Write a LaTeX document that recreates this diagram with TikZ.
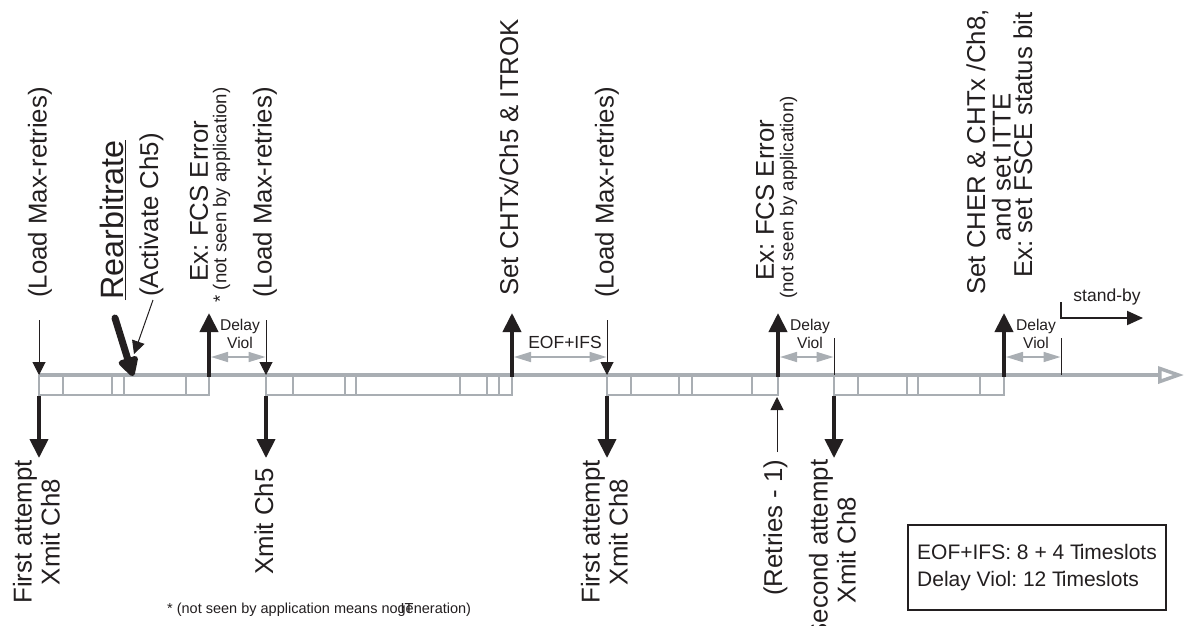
\documentclass[tikz,border=0pt]{standalone}
\usepackage{fontspec}
\setmainfont{Liberation Sans}
\usetikzlibrary{arrows.meta}
\definecolor{fr}{HTML}{A9AEB3}
\definecolor{ink}{HTML}{231F20}
\newcommand{\Tslots}{T\kern-0.15em imeslots}
\frenchspacing
\tikzset{
  frameline/.style={draw=fr, line width=2.8pt},
  axisline/.style={draw=fr, line width=4pt, -{Triangle[open, length=26pt, width=17pt, line width=3.5pt]}},
  bigarr/.style={draw=ink, line width=4pt, -{Triangle[length=19pt, width=18pt]}},
  thinarr/.style={draw=ink, line width=1pt, -{Triangle[length=13pt, width=13pt]}},
  rearr/.style={draw=ink, line width=7pt, line cap=round, -{Triangle[length=22pt, width=22pt, round]}},
  standarr/.style={draw=ink, line width=2pt, -{Triangle[length=16pt, width=14pt]}},
  tickline/.style={draw=ink, line width=1pt},
  dimarr/.style={draw=fr, line width=1.6pt, {Triangle[length=17pt,width=10pt]}-{Triangle[length=17pt,width=10pt]}},
  lab/.style={text=ink, rotate=90, inner sep=0pt, font=\fontsize{25.8}{28}\selectfont, align=center},
  bigrot/.style={text=ink, rotate=90, inner sep=0pt, font=\fontsize{32.3}{34}\selectfont},
  subrot/.style={text=ink, rotate=90, inner sep=0pt, font=\fontsize{18.6}{20}\selectfont},
  dlabel/.style={text=ink, inner sep=0pt, font=\fontsize{15.6}{18}\selectfont, align=center},
  elabel/.style={text=ink, inner sep=0pt, font=\fontsize{17.5}{20}\selectfont},
  notelabel/.style={text=ink, inner sep=0pt, font=\fontsize{14.5}{16}\selectfont},
  legendbox/.style={draw=ink, line width=2pt, text=ink, inner sep=0pt, minimum width=258pt, minimum height=85pt, align=left, font=\fontsize{21}{27}\selectfont},
}
\begin{document}
\begin{tikzpicture}[x=1pt,y=-1pt]
\fill[white] (0,0) rectangle (1186,625);
\useasboundingbox (0,0) rectangle (1186,625);

% ---- frames (gray timeslot boxes)
\foreach \a/\b in {39/209, 266/512, 607/778, 834/1004}
  \draw[frameline] (\a,375) -- (\a,395) -- (\b,395) -- (\b,375);
\foreach \x in {63,112,124,186,293,345,356,460,487,499,631,679,692,752,858,907,918,980}
  \draw[frameline] (\x,375) -- (\x,395);

% ---- time axis
\coordinate (ax0) at (39,375);
\coordinate (ax1) at (1184,375);
\draw[axisline] (ax0) -- (ax1);

% ---- event coordinates
\coordinate (ld1a) at (39,320);  \coordinate (ld1b) at (39,375);
\coordinate (x1a) at (39,396);   \coordinate (x1b) at (39,458);
\coordinate (rba) at (115,318);  \coordinate (rbb) at (133,376);
\coordinate (aca) at (153,300);  \coordinate (acb) at (134,354);
\coordinate (e2a) at (209,377);  \coordinate (e2b) at (209,313);
\coordinate (ld2a) at (266,320); \coordinate (ld2b) at (266,375);
\coordinate (x2a) at (266,396);  \coordinate (x2b) at (266,458);
\coordinate (e4a) at (512,377);  \coordinate (e4b) at (512,313);
\coordinate (ld3a) at (607,320); \coordinate (ld3b) at (607,375);
\coordinate (x3a) at (607,396);  \coordinate (x3b) at (607,458);
\coordinate (e6a) at (778,377);  \coordinate (e6b) at (778,313);
\coordinate (rta) at (777,452);  \coordinate (rtb) at (777,397);
\coordinate (t7a) at (834,338);  \coordinate (t7b) at (834,375);
\coordinate (x4a) at (834,396);  \coordinate (x4b) at (834,458);
\coordinate (e8a) at (1004,377); \coordinate (e8b) at (1004,313);
\coordinate (t9a) at (1061,338); \coordinate (t9b) at (1061,375);
\coordinate (sba) at (1061,302); \coordinate (sbb) at (1061,318); \coordinate (sbc) at (1143,318);

% ---- gray interval arrows
\coordinate (d1a) at (211,357);  \coordinate (d1b) at (265.5,357);
\coordinate (d2a) at (514,357);  \coordinate (d2b) at (606.5,357);
\coordinate (d3a) at (780,357);  \coordinate (d3b) at (833.5,357);
\coordinate (d4a) at (1006,357); \coordinate (d4b) at (1060.5,357);
\draw[dimarr] (d1a) -- (d1b);
\draw[dimarr] (d2a) -- (d2b);
\draw[dimarr] (d3a) -- (d3b);
\draw[dimarr] (d4a) -- (d4b);

% ---- black arrows
\draw[thinarr] (ld1a) -- (ld1b);
\draw[thinarr] (ld2a) -- (ld2b);
\draw[thinarr] (ld3a) -- (ld3b);
\draw[bigarr] (x1a) -- (x1b);
\draw[bigarr] (x2a) -- (x2b);
\draw[bigarr] (x3a) -- (x3b);
\draw[bigarr] (x4a) -- (x4b);
\draw[bigarr] (e2a) -- (e2b);
\draw[bigarr] (e4a) -- (e4b);
\draw[bigarr] (e6a) -- (e6b);
\draw[bigarr] (e8a) -- (e8b);
\draw[thinarr] (rta) -- (rtb);
\draw[tickline] (t7a) -- (t7b);
\draw[tickline] (t9a) -- (t9b);
\draw[rearr] (rba) -- (rbb);
\draw[thinarr] (aca) -- (acb);
\draw[standarr] (sba) -- (sbb) -- (sbc);

% ---- labels above the axis
\node[lab] (lmr1) at (40,192.5) {(Load Max-retries)};
\node[bigrot] (rearb) at (111.5,220) {Rearbitrate};
\draw[draw=ink, line width=1.5pt] ([xshift=2pt]rearb.south west) -- ([xshift=2pt]rearb.south east);
\node[lab] (act5) at (151.5,215) {(Activate Ch5)};
\node[lab] (fcs1) at (199,201) {Ex: FCS Error};
\node[subrot] (fcs1n) at (221.5,195) {* (not seen by application)};
\node[lab] (lmr2) at (265,192.5) {(Load Max-retries)};
\node[lab] (setok) at (509,157.5) {Set CHTx/Ch5 \& ITROK};
\node[lab] (lmr3) at (607,192.5) {(Load Max-retries)};
\node[lab] (fcs2) at (765,200) {Ex: FCS Error};
\node[subrot] (fcs2n) at (788.5,197.5) {(not seen by application)};
\node[lab] (cher1) at (977.5,152) {Set CHER \& CHTx /Ch8,};
\node[lab] (cher2) at (1001.5,167.5) {and set ITTE};
\node[lab] (cher3) at (1023,145) {Ex: set FSCE status bit};

% ---- interval labels
\node[dlabel] (dv1) at (240,334) {Delay\\Viol};
\node[elabel] (eof) at (565,342) {EOF+IFS};
\node[dlabel] (dv2) at (810,334) {Delay\\Viol};
\node[dlabel] (dv3) at (1036,334) {Delay\\Viol};
\node[elabel] (sby) at (1107,297) {stand-by};

% ---- labels below the axis
\node[lab] (fa1) at (36.5,532) {First attempt\\Xmit Ch8};
\node[lab] (xm5) at (264,521.5) {Xmit Ch5};
\node[lab] (fa2) at (604.5,532) {First attempt\\Xmit Ch8};
\node[lab] (ret) at (775.5,527.5) {(Retries - 1)};
\node[lab] (sa) at (832.5,550) {Second attempt\\Xmit Ch8};

% ---- footnote
\node[notelabel, anchor=base west] (note) at (167,613) {* (not seen by application means nogeneration)};
\node[notelabel, anchor=base west] (noteit) at (400.5,613) {IT};

% ---- legend
\node[legendbox] (legend) at (1037,567.5) {EOF+IFS: 8 + 4 \Tslots\\Delay Viol: 12 \Tslots};
\end{tikzpicture}
\end{document}
